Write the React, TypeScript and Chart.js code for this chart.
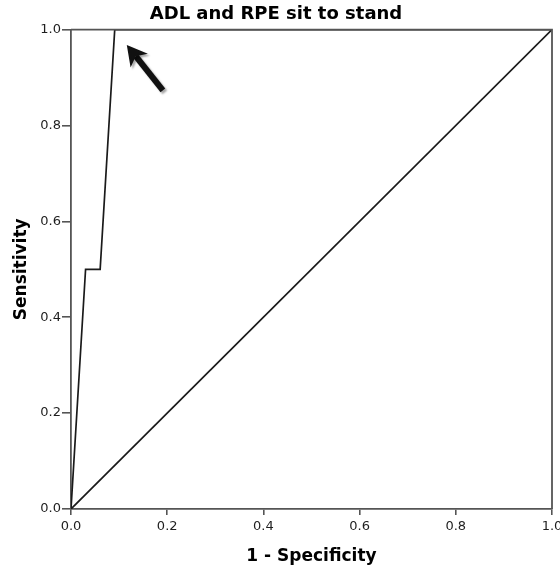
import React, { useEffect, useRef } from "react";
import { Chart, registerables } from "chart.js";

Chart.register(...registerables);

const chartTitle = "ADL and RPE sit to stand";
const xTitle = "1 - Specificity";
const yTitle = "Sensitivity";

// ROC curve (1 - specificity, sensitivity)
const rocX = [0, 0.0303, 0.0606, 0.0909, 1];
const rocY = [0, 0.5, 0.5, 1, 1];
// reference line
const refX = [0, 1];
const refY = [0, 1];
// arrow annotation (data coordinates)
const arrowFrom = [0.191, 0.873];
const arrowTo = [0.116, 0.968];

const axisColor = "#555555";

const framePlugin = {
  id: "frame",
  afterDatasetsDraw(chart: any) {
    const { ctx, chartArea } = chart;
    ctx.save();
    ctx.strokeStyle = axisColor;
    ctx.lineWidth = 1.8;
    ctx.beginPath();
    ctx.moveTo(chartArea.left, chartArea.top);
    ctx.lineTo(chartArea.right, chartArea.top);
    ctx.lineTo(chartArea.right, chartArea.bottom);
    ctx.stroke();
    ctx.restore();
  },
};

const arrowPlugin = {
  id: "arrow",
  afterDraw(chart: any) {
    const { ctx } = chart;
    const xs = chart.scales.x;
    const ys = chart.scales.y;
    const x1 = xs.getPixelForValue(arrowFrom[0]);
    const y1 = ys.getPixelForValue(arrowFrom[1]);
    const x2 = xs.getPixelForValue(arrowTo[0]);
    const y2 = ys.getPixelForValue(arrowTo[1]);
    const ang = Math.atan2(y2 - y1, x2 - x1);
    const headLen = 20;
    const headW = 11;
    const bx = x2 - headLen * 0.72 * Math.cos(ang);
    const by = y2 - headLen * 0.72 * Math.sin(ang);
    ctx.save();
    ctx.shadowColor = "rgba(0,0,0,0.35)";
    ctx.shadowOffsetX = 2;
    ctx.shadowOffsetY = 2;
    ctx.shadowBlur = 2;
    ctx.fillStyle = "#111";
    ctx.strokeStyle = "#111";
    ctx.lineWidth = 6;
    ctx.lineCap = "butt";
    ctx.beginPath();
    ctx.moveTo(x1, y1);
    ctx.lineTo(bx, by);
    ctx.stroke();
    const hx = x2 - headLen * Math.cos(ang);
    const hy = y2 - headLen * Math.sin(ang);
    const px = -Math.sin(ang);
    const py = Math.cos(ang);
    ctx.beginPath();
    ctx.moveTo(x2, y2);
    ctx.lineTo(hx + px * headW, hy + py * headW);
    ctx.lineTo(bx, by);
    ctx.lineTo(hx - px * headW, hy - py * headW);
    ctx.closePath();
    ctx.fill();
    ctx.restore();
  },
};

export default function App() {
  const ref = useRef<HTMLCanvasElement | null>(null);
  useEffect(() => {
    if (!ref.current) return;
    Chart.defaults.font.family = "'DejaVu Sans', sans-serif";
    const chart = new Chart(ref.current, {
      type: "scatter",
      data: {
        datasets: [
          {
            data: rocX.map((x, i) => ({ x, y: rocY[i] })),
            showLine: true,
            borderColor: "#1a1a1a",
            borderWidth: 1.7,
            pointRadius: 0,
            tension: 0,
          },
          {
            data: refX.map((x, i) => ({ x, y: refY[i] })),
            showLine: true,
            borderColor: "#1a1a1a",
            borderWidth: 1.7,
            pointRadius: 0,
            tension: 0,
          },
        ],
      },
      options: {
        animation: false,
        responsive: false,
        devicePixelRatio: 1,
        layout: { padding: { top: 0, left: 0, right: 8, bottom: 0 } },
        plugins: {
          legend: { display: false },
          tooltip: { enabled: false },
          title: {
            display: true,
            text: chartTitle,
            color: "#000",
            font: { size: 18, weight: "bold" },
            padding: { top: 4, bottom: 4 },
          },
        },
        scales: {
          x: {
            type: "linear",
            min: 0,
            max: 1,
            afterFit: (s: any) => {
              s.height = 58;
              s.paddingRight = 0;
              s.paddingLeft = 0;
            },
            border: { display: true, color: axisColor, width: 1.8 },
            grid: {
              drawOnChartArea: false,
              drawTicks: true,
              tickLength: 6,
              color: axisColor,
              lineWidth: 1.6,
            },
            ticks: {
              stepSize: 0.2,
              maxRotation: 0,
              padding: 4,
              color: "#1e1e1e",
              font: { size: 13 },
              callback: (v: any) => Number(v).toFixed(1),
            },
            title: {
              display: true,
              text: xTitle,
              color: "#000",
              font: { size: 17, weight: "bold" },
              padding: { top: 0, bottom: 0 },
            },
          },
          y: {
            type: "linear",
            min: 0,
            max: 1,
            afterFit: (s: any) => {
              s.width = 71;
            },
            border: { display: true, color: axisColor, width: 1.8 },
            grid: {
              drawOnChartArea: false,
              drawTicks: true,
              tickLength: 9,
              color: axisColor,
              lineWidth: 1.6,
            },
            ticks: {
              stepSize: 0.2,
              padding: 1,
              color: "#1e1e1e",
              font: { size: 13 },
              callback: (v: any) => Number(v).toFixed(1),
            },
            title: {
              display: true,
              text: yTitle,
              color: "#000",
              font: { size: 17, weight: "bold" },
              padding: { top: 11, bottom: 0 },
            },
          },
        },
      },
      plugins: [framePlugin, arrowPlugin],
    } as any);
    return () => chart.destroy();
  }, []);
  return (
    <div style={{ position: "fixed", left: 0, top: 0, width: 560, height: 567, background: "#fff" }}>
      <canvas ref={ref} width={560} height={567} style={{ display: "block" }} />
    </div>
  );
}
